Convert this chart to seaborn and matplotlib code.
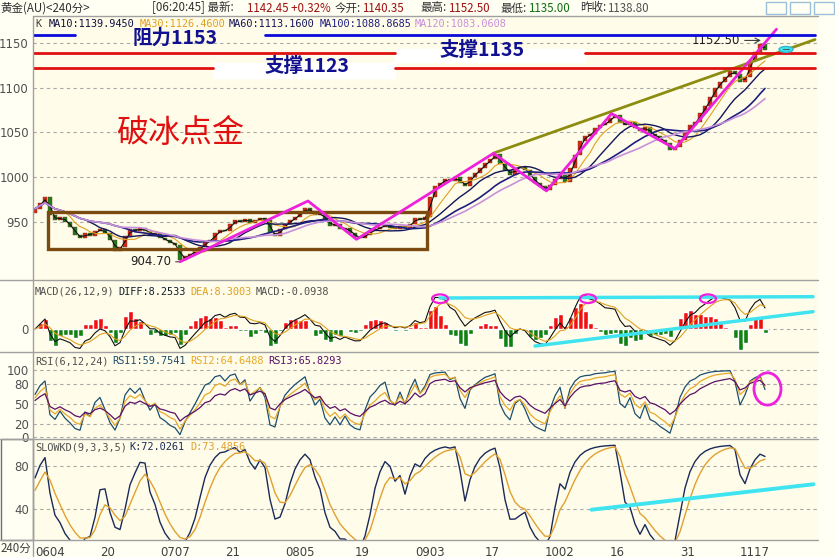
import numpy as np
import pandas as pd
import matplotlib
matplotlib.use("Agg")
import matplotlib.pyplot as plt
import seaborn as sns
from matplotlib.patches import Rectangle, Ellipse
from matplotlib.lines import Line2D
from matplotlib.transforms import blended_transform_factory

# closing prices (one value every ~5 px)
close = [
    965, 972, 978, 958, 952, 956, 950, 945, 936, 932,
    938, 935, 940, 942, 938, 930, 918, 922, 935, 942,
    940, 944, 940, 936, 938, 932, 930, 927, 925, 908,
    912, 915, 918, 922, 928, 930, 938, 941, 940, 948,
    952, 950, 954, 949, 952, 955, 953, 938, 935, 942,
    948, 952, 956, 960, 966, 962, 958, 960, 952, 946,
    948, 942, 944, 938, 934, 932, 936, 940, 942, 945,
    947, 944, 943, 946, 944, 948, 955, 952, 956, 978,
    990, 994, 998, 996, 1000, 994, 990, 1000, 1005, 1010,
    1016, 1020, 1026, 1015, 1008, 1003, 1010, 1012, 1008, 1000,
    994, 990, 986, 992, 998, 1004, 995, 1010, 1025, 1040,
    1046, 1048, 1055, 1058, 1060, 1066, 1070, 1060, 1058, 1062,
    1055, 1052, 1056, 1048, 1046, 1042, 1038, 1030, 1034, 1042,
    1050, 1058, 1062, 1072, 1080, 1090, 1100, 1106, 1112, 1118,
    1115, 1106, 1112, 1130, 1140, 1148, 1142,
]
first_open = 960

date_pos = [0, 13, 25, 38, 50, 64, 76, 90, 102, 115, 129, 141]
date_labels = ["0604", "20", "0707", "21", "0805", "19", "0903", "17", "1002", "16", "31", "1117"]

ma_names = ["MA10", "MA30", "MA60", "MA100", "MA120"]
ma_values = ["1139.9450", "1126.4600", "1113.1600", "1088.8685", "1083.0608"]
ma_windows = [2, 6, 11, 18, 22]          # periods scaled to the coarse bars
ma_colors = ["#101010", "#E0A020", "#15155A", "#1E1E80", "#C890DC"]
ma_text_x = [49, 140, 229, 320, 415]

# hand drawn annotations (bar index, price)
zigzag_bar = [29, 54.6, 64.3, 91.7, 102.3, 115.3, 128, 148.3]
zigzag_price = [906, 973.7, 931, 1026.8, 984.9, 1071, 1032, 1165]
olive_bar = [91.7, 156]
olive_price = [1027, 1153.5]
box_bar = [2.5, 78.4]
box_price = [920, 961.8]
resist_price = 1158
support_hi = 1139
support_lo = 1121.5

header_parts = [
    (0, "黄金(AU)<240分>", "#303030"),
    (152, "[06:20:45] 最新:", "#303030"),
    (247, "1142.45 +0.32%", "#A01010"),
    (335, "今开:", "#303030"),
    (362, "1140.35", "#A01010"),
    (420, "最高:", "#303030"),
    (448, "1152.50", "#A01010"),
    (500, "最低:", "#303030"),
    (528, "1135.00", "#107010"),
    (580, "昨收:", "#303030"),
    (607, "1138.80", "#505050"),
]

W, H = 835, 557
BG = "#FFFFF4"
PANEL = "#FFFDE9"

sns.set_style("white")
plt.rcParams["font.family"] = ["DejaVu Sans", "Noto Sans CJK SC"]

s = pd.Series(close, dtype=float)
op = pd.Series([first_open] + close[:-1], dtype=float)
bar = np.arange(len(close))
hi = np.maximum(op, s)
lo = np.minimum(op, s)


def smooth(x, a, start):
    out, v = [], start
    for xi in x:
        v = (1 - a) * v + a * xi
        out.append(v)
    return pd.Series(out)


# indicators computed from the closes
mas = [s.rolling(w, min_periods=1).mean() for w in ma_windows]
diff = s.ewm(span=2.5, adjust=False).mean() - s.ewm(span=5.5, adjust=False).mean()
dea = diff.ewm(span=4, adjust=False).mean()
hist = 2 * (diff - dea)


def rsi(x, n):
    d = (x - op).values
    up = smooth(np.clip(d, 0, None), 1 / n, 3.0)
    dn = smooth(np.clip(-d, 0, None), 1 / n, 3.0)
    return 100 * up / (up + dn)


rsi1, rsi2, rsi3 = rsi(s, 3.2), rsi(s, 5), rsi(s, 9)
llv = lo.rolling(5, min_periods=1).min()
hhv = hi.rolling(5, min_periods=1).max()
rsv = ((s - llv) / (hhv - llv) * 100).fillna(50)
k_line = smooth(rsv.values, 0.38, 50)
d_line = smooth(k_line.values, 0.38, 50)

fig = plt.figure(figsize=(W / 100, H / 100), dpi=100, facecolor=BG)


def rect(x0, y0, x1, y1):
    return [x0 / W, 1 - y1 / H, (x1 - x0) / W, (y1 - y0) / H]


ax = fig.add_axes(rect(33, 17, 818, 280))
ax_macd = fig.add_axes(rect(33, 280, 818, 352), sharex=ax)
ax_rsi = fig.add_axes(rect(33, 352, 818, 439), sharex=ax)
ax_kd = fig.add_axes(rect(33, 439, 818, 540), sharex=ax)
xlim = (-0.4, 156.6)

for a in (ax, ax_macd, ax_rsi, ax_kd):
    a.set_facecolor(PANEL)
    for sp in a.spines.values():
        sp.set_visible(False)
    a.tick_params(axis="y", length=0, labelsize=8.5, labelcolor="#505050", pad=3)
    a.tick_params(axis="x", length=0, labelbottom=False)
    a.grid(False)
    a.yaxis.grid(True, ls=(0, (3, 3)), color="#A8A8A8", lw=0.8)
    a.set_axisbelow(True)
ax.set_xlim(*xlim)

# ---------- main price panel ----------
ax.set_ylim(885.7, 1178.6)
ax.set_yticks([950, 1000, 1050, 1100, 1150])

up = s >= op
ax.bar(bar, (s - op).where((s - op).abs() > 0.6, 0.6), bottom=op, width=0.75,
       color=np.where(up, "#D8281A", "#1E7E1E"), edgecolor="#6A3A10", linewidth=0.3, zorder=3)
for m, c, w in zip(mas, ma_colors, [0.8, 0.8, 1.0, 1.2, 1.2]):
    sns.lineplot(x=bar, y=m.values, ax=ax, color=c, lw=w, zorder=4)

ax.add_patch(Rectangle((box_bar[0], box_price[0]), box_bar[1] - box_bar[0],
                       box_price[1] - box_price[0], fill=False, ec="#7A4A10", lw=2.4, zorder=5))
ax.plot(zigzag_bar, zigzag_price, color="#EE22DD", lw=2, zorder=6)
ax.plot(olive_bar, olive_price, color="#8C8C10", lw=2, zorder=5)

# resistance / support lines with white label boxes
ax.plot([-0.4, 8], [resist_price] * 2, color="#0A0ADC", lw=2, zorder=6)
ax.plot([46, 156], [resist_price] * 2, color="#0A0ADC", lw=2, zorder=6)
ax.plot([-0.4, 72], [support_hi] * 2, color="#E01010", lw=2, zorder=6)
ax.plot([110, 156], [support_hi] * 2, color="#E01010", lw=2, zorder=6)
ax.plot([-0.4, 35.6], [support_lo] * 2, color="#E01010", lw=2, zorder=6)
ax.plot([72, 156], [support_lo] * 2, color="#E01010", lw=2, zorder=6)
ax.add_patch(Rectangle((72, 1128), 38, 15, color="white", zorder=5))
ax.add_patch(Rectangle((35.6, 1111), 36.4, 16, color="white", zorder=5))
txt = dict(family=["Noto Sans CJK SC"], fontsize=14, fontweight="bold", color="#101090",
           ha="center", va="center", zorder=7)
ax.text(28, 1155.5, "阻力1153", **txt)
ax.text(89.5, 1141, "支撑1135", **txt)
ax.text(54.5, 1124, "支撑1123", **txt)
ax.text(29, 1050, "破冰点金", family=["Noto Sans CJK SC"], fontsize=23,
        color="#E01010", ha="center", va="center")

ax.annotate("1152.50", xy=(145.2, 1152.5), xytext=(141, 1152.5), fontsize=8.5,
            color="#202020", ha="right", va="center",
            arrowprops=dict(arrowstyle="->", color="#404040", lw=0.8, shrinkA=1, shrinkB=0))
ax.annotate("904.70", xy=(29, 906), xytext=(27.2, 906), fontsize=8.5,
            color="#202020", ha="right", va="center",
            arrowprops=dict(arrowstyle="-", color="#404040", lw=0.8, shrinkA=1, shrinkB=0))
ax.add_patch(Ellipse((150.2, 1142.5), 2.8, 6.5, fc="#40E4F0", ec="#30B8D0", lw=1, zorder=7))
ax.plot([149.6, 150.8], [1142.5, 1142.5], color="#406070", lw=0.8, zorder=8)

# ---------- MACD ----------
M = max(diff.abs().max(), dea.abs().max(), hist.abs().max())
top = 1.45 * M
ax_macd.set_ylim(-0.469 * top, top)
ax_macd.set_yticks([0])
ax_macd.bar(bar, hist, width=1.0, color=np.where(hist >= 0, "#F01010", "#108010"), zorder=3)
sns.lineplot(x=bar, y=diff.values, ax=ax_macd, color="#101010", lw=0.8, zorder=4)
sns.lineplot(x=bar, y=dea.values, ax=ax_macd, color="#E0A020", lw=0.8, zorder=4)
tm = blended_transform_factory(ax_macd.transData, ax_macd.transAxes)
ax_macd.plot([81, 155.6], [0.75, 0.768], color="#40E4F0", lw=2.5, transform=tm, zorder=5)
ax_macd.plot([100, 155.6], [0.083, 0.56], color="#40E4F0", lw=2.5, transform=tm, zorder=5)
for cx in [81, 110.6, 134.6]:
    ax_macd.add_patch(Ellipse((cx, 0.74), 3.2, 0.12, fill=False, ec="#EE22DD", lw=1.6,
                              transform=tm, zorder=6))

# ---------- RSI ----------
ax_rsi.set_ylim(-2.5, 127)
ax_rsi.set_yticks([0, 20, 50, 80, 100])
for r, c in zip([rsi1, rsi2, rsi3], ["#1C4E6E", "#E8A828", "#5A1068"]):
    sns.lineplot(x=bar, y=r.values, ax=ax_rsi, color=c, lw=0.9)
ax_rsi.add_patch(Ellipse((146.5, 72), 5.4, 48, fill=False, ec="#EE22DD", lw=2, zorder=6))

# ---------- SLOW KD ----------
ax_kd.set_ylim(10.5, 105.6)
ax_kd.set_yticks([40, 80])
sns.lineplot(x=bar, y=k_line.values, ax=ax_kd, color="#1A2A5A", lw=1.0)
sns.lineplot(x=bar, y=d_line.values, ax=ax_kd, color="#E0A030", lw=1.0)
ax_kd.plot([111.3, 155.7], [39, 63], color="#40E4F0", lw=2.8, zorder=5)
ax_kd.set_xticks(date_pos)
ax_kd.set_xticklabels(date_labels)
ax_kd.tick_params(axis="x", labelbottom=True, labelsize=8.5, labelcolor="#404040", pad=4)
for lab in ax_kd.get_xticklabels():
    lab.set_ha("left")
ax_kd.set_xlim(*xlim)
for a in (ax, ax_macd, ax_rsi, ax_kd):
    a.set_xlabel("")
    a.set_ylabel("")

# ---------- panel captions ----------
mono = dict(family=["DejaVu Sans Mono"], fontsize=7.4, va="center")
fig.text(35 / W, 1 - 24 / H, "K", color="#404040", **mono)
for nm, v, c, x in zip(ma_names, ma_values, ma_colors, ma_text_x):
    fig.text(x / W, 1 - 24 / H, f"{nm}:{v}", color=c if nm != "MA10" else "#101040", **mono)
for x, t, c in [(35, "MACD(26,12,9)", "#505050"), (118, "DIFF:8.2533", "#102030"),
                (190, "DEA:8.3003", "#E0A020"), (256, "MACD:-0.0938", "#505050")]:
    fig.text(x / W, 1 - 292 / H, t, color=c, **mono)
for x, t, c in [(35, "RSI(6,12,24)", "#505050"), (112, "RSI1:59.7541", "#1C4E6E"),
                (190, "RSI2:64.6488", "#E8A828"), (268, "RSI3:65.8293", "#5A1068")]:
    fig.text(x / W, 1 - 361 / H, t, color=c, **mono)
for x, t, c in [(35, "SLOWKD(9,3,3,5)", "#505050"), (129, "K:72.0261", "#1A2A5A"),
                (190, "D:73.4856", "#E0A030")]:
    fig.text(x / W, 1 - 447 / H, t, color=c, **mono)

for x, t, c in header_parts:
    fig.text(x / W, 1 - 8 / H, t, color=c, family=["Noto Sans CJK SC"], fontsize=8.3, va="center")
fig.text(1 / W, 1 - 548 / H, "240分", color="#404040", family=["Noto Sans CJK SC"],
         fontsize=8.3, va="center")

# frame lines
for y in [16, 280, 352, 439, 540]:
    fig.add_artist(Line2D([0 if y > 16 else 33 / W, 818 / W], [1 - y / H] * 2, color="#A0A0A0", lw=1))
fig.add_artist(Line2D([33 / W, 33 / W], [1 - 556 / H, 1 - 16 / H], color="#A0A0A0", lw=1))
fig.add_artist(Rectangle((0.5 / W, 1 - 540 / H), 32.5 / W, 101 / H, fill=False,
                         ec="#707070", lw=1, transform=fig.transFigure))
for x0 in [766, 790, 814]:
    fig.add_artist(Rectangle((x0 / W, 1 - 14 / H), 20 / W, 12 / H, fill=False,
                             ec="#9CC0DA", lw=1, transform=fig.transFigure))

fig.savefig("out.png", dpi=100, facecolor=BG)
